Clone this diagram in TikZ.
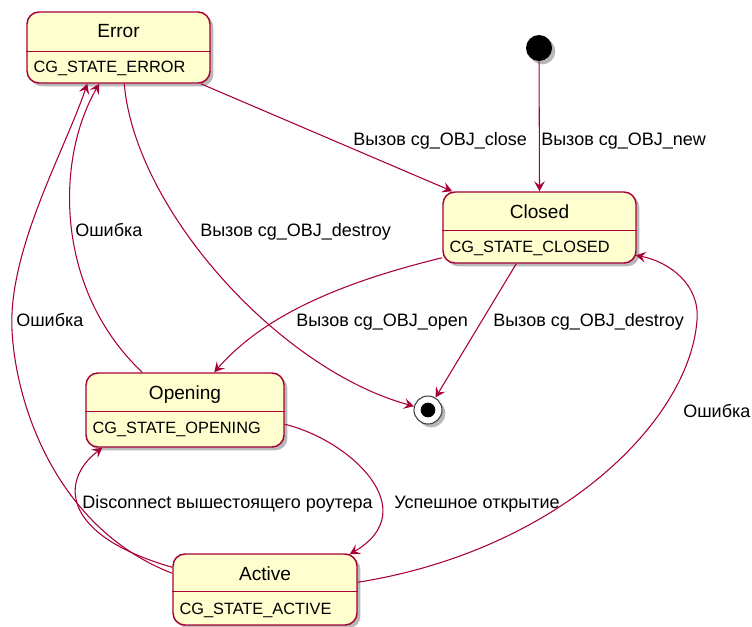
\documentclass[tikz,border=0pt]{standalone}
\usepackage{fontspec}
\setmainfont{Liberation Sans}
\usetikzlibrary{arrows.meta,shadows,fit,calc}
\definecolor{umlbd}{HTML}{A80036}
\definecolor{umlfill}{HTML}{FEFECE}
\tikzset{
 umlshadow/.style={drop shadow={shadow xshift=2.5pt, shadow yshift=-2.5pt, opacity=0.28, fill=black}},
 statebox/.style={draw=umlbd, fill=umlfill, line width=1.1pt, rounded corners=9pt, inner sep=0pt, umlshadow},
 divider/.style={draw=umlbd, line width=1.1pt},
 stitle/.style={anchor=base, inner sep=0pt, font=\fontsize{14.3}{16}\selectfont},
 sbody/.style={anchor=base west, inner sep=0pt, font=\fontsize{12.25}{14}\selectfont},
 elabel/.style={anchor=base west, inner sep=0pt, font=\fontsize{13.5}{15}\selectfont},
 trans/.style={draw=umlbd, line width=0.8pt, -{Stealth[length=7.5pt,width=8pt,inset=3pt]}},
}
\begin{document}
\begin{tikzpicture}[x=0.75pt,y=-0.75pt]
\useasboundingbox (0,0) rectangle (752,626);
% states
\node[statebox, fit={(27,12) (210,83)}] (error) {};
\node[statebox, fit={(443,192) (636,263)}] (closed) {};
\node[statebox, fit={(86,373) (284,447)}] (opening) {};
\node[statebox, fit={(173,554) (357,625)}] (active) {};
\draw[divider] ($(error.north west)+(0,40)$) -- ($(error.north east)+(0,40)$);
\draw[divider] ($(closed.north west)+(0,39)$) -- ($(closed.north east)+(0,39)$);
\draw[divider] ($(opening.north west)+(0,39)$) -- ($(opening.north east)+(0,39)$);
\draw[divider] ($(active.north west)+(0,38)$) -- ($(active.north east)+(0,38)$);
\node[stitle] (errort) at ($(error.north)+(0,26.5)$) {Error};
\node[stitle] (closedt) at ($(closed.north)+(0,27)$) {Closed};
\node[stitle] (openingt) at ($(opening.north)+(0,27)$) {Opening};
\node[stitle] (activet) at ($(active.north)+(0,27)$) {Active};
\node[sbody] (errorb) at ($(error.north west)+(7,61)$) {CG\_STATE\_ERROR};
\node[sbody] (closedb) at ($(closed.north west)+(7,61)$) {CG\_STATE\_CLOSED};
\node[sbody] (openingb) at ($(opening.north west)+(7,61)$) {CG\_STATE\_OPENING};
\node[sbody] (activeb) at ($(active.north west)+(7,61)$) {CG\_STATE\_ACTIVE};
% pseudo states
\node[circle, fill=black, minimum size=19.5pt, inner sep=0pt, umlshadow] (init) at (539,48) {};
\node[circle, draw=black!75, line width=0.8pt, fill=white, minimum size=21pt, inner sep=0pt, umlshadow] (final) at (428,410) {};
\node[circle, fill=black, minimum size=11pt, inner sep=0pt] (finaldot) at (final) {};
% transitions
\draw[trans] (init) -- (closed.north);
\draw[trans] ($(error.south east)+(-10,0)$) -- ($(closed.north west)+(10,0)$);
\draw[trans] ($(error.south west)+(98,0)$) .. controls (135,210) and (280,370) .. (final);
\draw[trans] ($(closed.south west)+(74,0)$) -- (final);
\draw[trans] ($(closed.south west)+(0,-6)$) .. controls (330,285) and (260,320) .. ($(opening.north west)+(129,0)$);
\draw[trans] ($(opening.north west)+(57,0)$) .. controls (55,290) and (55,160) .. ($(error.south west)+(73,0)$);
\coordinate (leftbend) at (12,330);
\draw[trans] ($(active.north west)+(0,20)$) .. controls (60,530) and (16,410) .. (leftbend) .. controls (8,250) and (65,150) .. ($(error.south west)+(61,0)$);
\draw[trans] ($(opening.north east)+(0,52)$) .. controls (350,440) and (425,510) .. ($(active.north east)+(-8,1)$);
\draw[trans] ($(active.north west)+(0,14)$) .. controls (60,535) and (60,480) .. ($(opening.south west)+(17,0)$);
\coordinate (rightbend) at (697,320);
\draw[trans] ($(active.north east)+(0,29)$) .. controls (560,550) and (690,420) .. (rightbend) .. controls (700,285) and (670,262) .. ($(closed.north east)+(-1,64)$);
% labels
\node[elabel] (lnew) at (541,145) {Вызов cg\_OBJ\_new};
\node[elabel] (lclose) at (353,145) {Вызов cg\_OBJ\_close};
\node[elabel] (ldestroya) at (200,236) {Вызов cg\_OBJ\_destroy};
\node[elabel] (lerra) at (75,236) {Ошибка};
\node[elabel] (lerrb) at (16,326) {Ошибка};
\node[elabel] (lopen) at (296,326) {Вызов cg\_OBJ\_open};
\node[elabel] (ldestroyb) at (493,326) {Вызов cg\_OBJ\_destroy};
\node[elabel] (lerrc) at (683,417) {Ошибка};
\node[elabel] (ldisc) at (82,508) {Disconnect вышестоящего роутера};
\node[elabel] (lsucc) at (394,508) {Успешное открытие};
\end{tikzpicture}
\end{document}
